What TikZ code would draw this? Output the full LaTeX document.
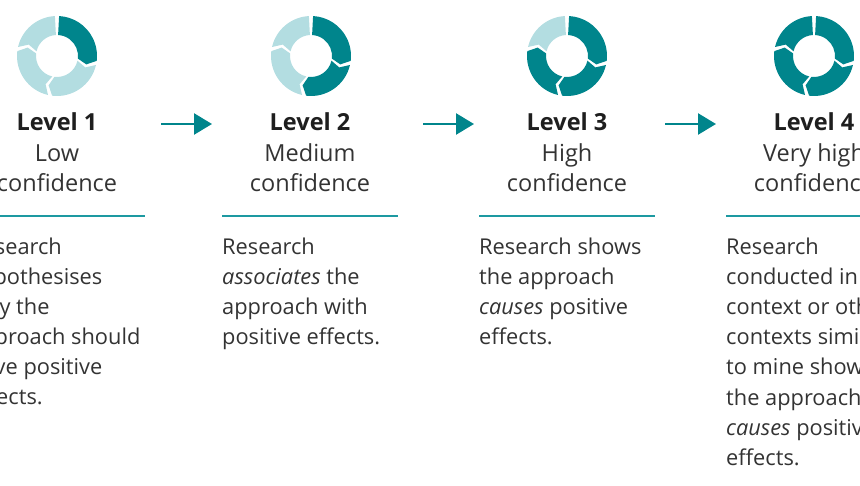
\documentclass[tikz,border=0pt]{standalone}
\usepackage{fontspec}
\setmainfont{Open Sans}
\usetikzlibrary{positioning}
\usetikzlibrary{arrows.meta}
\definecolor{tealdark}{HTML}{00858C}
\definecolor{teallight}{HTML}{B3DDE1}
\definecolor{tealline}{HTML}{1D99A1}
\definecolor{textgray}{HTML}{333333}
\definecolor{headgray}{HTML}{1E1E1E}
\tikzset{
    level/.style={ % title of each level, placed by its last line
        align=center,
        inner sep=0pt,
        anchor=base,
        text=textgray,
        font=\fontsize{23.5}{30.5}\selectfont
    },
    blurb/.style={ % text under the rule, placed by its last line
        align=left,
        inner sep=0pt,
        anchor=base west,
        text=textgray,
        font=\fontsize{21.8}{30.2}\selectfont
    },
    rule/.style={draw=tealline, line width=2pt},
    flow/.style={draw=tealdark, line width=2.5pt, -{Triangle[length=18pt, width=21pt]}}
}
% cycle ring: centre, number of dark parts
\newcommand{\cyclering}[2]{%
    \begin{scope}[shift={(#1)}]
        \foreach \s/\e/\ts/\te/\k in {90/-10/0/9/1, -10/-100/9/9/2, -100/-190/9/9/3, -190/-270/9/0/4} {
            \ifnum\k>#2 \def\segcol{teallight}\else\def\segcol{tealdark}\fi
            \fill[\segcol] ({\s-3}:40) arc[start angle=\s-3, end angle=\e+3, radius=40]
                -- ({\e+3-\te}:30.5) -- ({\e+3}:21)
                arc[start angle=\e+3, end angle=\s-3, radius=21]
                -- ({\s-3-\ts}:30.5) -- cycle;
        }
    \end{scope}}

\begin{document}
\begin{tikzpicture}[x=1pt, y=1pt]
    \useasboundingbox (0,0) rectangle (860,485);
    \clip (0,0) rectangle (860,485);

    % rings
    \coordinate (c1) at (57,429);
    \coordinate (c2) at (311,429);
    \coordinate (c3) at (567,429);
    \coordinate (c4) at (814,429);
    \cyclering{c1}{1}
    \cyclering{c2}{2}
    \cyclering{c3}{3}
    \cyclering{c4}{4}

    % titles
    \node[level] (t1) at (57,293) {\textbf{\color{headgray}Level 1}\\Low\\confidence};
    \node[level] (t2) at (310,293) {\textbf{\color{headgray}Level 2}\\Medium\\confidence};
    \node[level] (t3) at (567,293) {\textbf{\color{headgray}Level 3}\\High\\confidence};
    \node[level] (t4) at (814,293) {\textbf{\color{headgray}Level 4}\\Very high\\confidence};

    % rules
    \draw[rule] (-31,269) -- (145,269);
    \draw[rule] (222,269) -- (398,269);
    \draw[rule] (479,269) -- (655,269);
    \draw[rule] (726,269) -- (902,269);

    % texts
    \node[blurb] (b1) at (-31,80) {Research\\hypothesises\\why the\\approach should\\have positive\\effects.};
    \node[blurb] (b2) at (222,140.4) {Research\\\textit{associates} the\\approach with\\positive effects.};
    \node[blurb] (b3) at (479,140.4) {Research shows\\the approach\\\textit{causes} positive\\effects.};
    \node[blurb] (b4) at (726,19.6) {Research\\conducted in\\context or other\\contexts similar\\to mine shows\\the approach\\\textit{causes} positive\\effects.};

    % arrows
    \coordinate (a1s) at (161,361);
    \coordinate (a1e) at (212,361);
    \coordinate (a2s) at (423,361);
    \coordinate (a2e) at (474,361);
    \coordinate (a3s) at (665,361);
    \coordinate (a3e) at (716,361);
    \draw[flow] (a1s) -- (a1e);
    \draw[flow] (a2s) -- (a2e);
    \draw[flow] (a3s) -- (a3e);
\end{tikzpicture}
\end{document}
